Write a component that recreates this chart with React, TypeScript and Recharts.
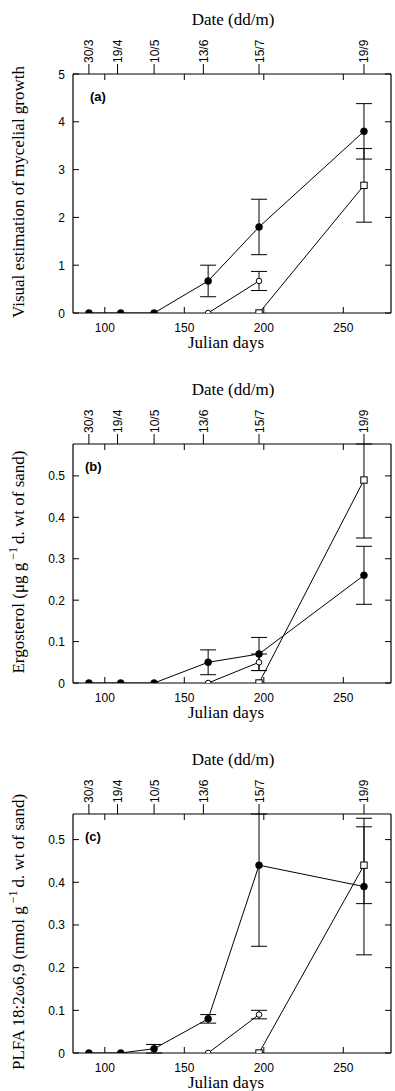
import React from 'react';
import { LineChart, Line, XAxis, YAxis, ErrorBar, ReferenceLine } from 'recharts';

// ---------- data ----------
const filledDays = [90, 110, 131, 165, 197, 263];
const openDays = [165, 197];
const squareDays = [197, 263];
const dateTicks = [90, 108, 131, 162, 197, 263];
const dateLabels = ['30/3', '19/4', '10/5', '13/6', '15/7', '19/9'];
const julianTicks = [100, 150, 200, 250];

// (a) visual estimation of mycelial growth  (error: [minus, plus])
const aFilled = [0, 0, 0, 0.67, 1.8, 3.8];
const aFilledErr = [null, null, null, [0.33, 0.33], [0.58, 0.58], [0.58, 0.58]];
const aOpen = [0, 0.67];
const aOpenErr = [null, [0.2, 0.2]];
const aSquare = [0, 2.67];
const aSquareErr = [null, [0.77, 0.77]];
const aTicks = [0, 1, 2, 3, 4, 5];

// (b) ergosterol (upper bar of the square runs off the top of the frame)
const bFilled = [0, 0, 0, 0.05, 0.07, 0.26];
const bFilledErr = [null, null, null, [0.03, 0.03], [0.04, 0.04], [0.07, 0.07]];
const bOpen = [0, 0.05];
const bOpenErr = [null, [0.02, 0.02]];
const bSquare = [0, 0.49];
const bSquareErr = [null, [0.14, 0.087]];
const bTicks = [0, 0.1, 0.2, 0.3, 0.4, 0.5];

// (c) PLFA 18:2w6,9 (upper bar at 15/7 runs off the top of the frame)
const cFilled = [0, 0, 0.01, 0.08, 0.44, 0.39];
const cFilledErr = [null, null, [0.01, 0.01], [0.01, 0.01], [0.19, 0.12], [0.16, 0.16]];
const cOpen = [0, 0.09];
const cOpenErr = [null, [0.01, 0.01]];
const cSquare = [0, 0.44];
const cSquareErr = [null, [0.09, 0.09]];
const cTicks = [0, 0.1, 0.2, 0.3, 0.4, 0.5];

// ---------- layout ----------
const W = 395;
const H = 360;
const TOP_H = 74;
const BOTTOM_H = 47;
const LEFT_W = 73;
const RIGHT_M = 4;
const PT = TOP_H;
const PB = H - BOTTOM_H;
const PL = LEFT_W;
const PR = W - RIGHT_M;

const SANS = '"Liberation Sans", Arial, Helvetica, sans-serif';
const SERIF = '"Liberation Serif", "Times New Roman", Times, serif';

const rows = (xs: number[], vs: number[], es: any[]) =>
  xs.map((d, i) => ({ day: d, v: vs[i], e: es[i] }));

const BottomTick = (props: any) => {
  const { x, payload } = props;
  return (
    <g>
      <line x1={x} x2={x} y1={PB} y2={PB - 6} stroke="#000" strokeWidth={1} />
      <line x1={x} x2={x} y1={PT} y2={PT + 6} stroke="#000" strokeWidth={1} />
      <text x={x} y={PB + 19} textAnchor="middle" fontSize={12} fontFamily={SANS} fill="#000">
        {payload.value}
      </text>
    </g>
  );
};

const LeftTick = (props: any) => {
  const { y, payload } = props;
  return (
    <g>
      <line x1={PL} x2={PL + 6} y1={y} y2={y} stroke="#000" strokeWidth={1} />
      <line x1={PR} x2={PR - 6} y1={y} y2={y} stroke="#000" strokeWidth={1} />
      <text x={PL - 8} y={y + 4.5} textAnchor="end" fontSize={12} fontFamily={SANS} fill="#000">
        {String(payload.value)}
      </text>
    </g>
  );
};

const TopTick = (props: any) => {
  const { x, payload } = props;
  const idx = dateTicks.indexOf(payload.value);
  const tx = x + 4.5;
  const ty = PT - 11;
  return (
    <g>
      <line x1={x} x2={x} y1={PT} y2={PT - 10} stroke="#000" strokeWidth={1} />
      <text
        x={tx}
        y={ty}
        transform={`rotate(-90 ${tx} ${ty})`}
        textAnchor="start"
        fontSize={12}
        fontFamily={SANS}
        fill="#000"
      >
        {dateLabels[idx]}
      </text>
    </g>
  );
};

const filledDot = (p: any) => (
  <circle key={`f${p.index}`} cx={p.cx} cy={p.cy} r={3.5} fill="#000" stroke="#000" strokeWidth={0.5} />
);
const openDot = (p: any) => (
  <circle key={`o${p.index}`} cx={p.cx} cy={p.cy} r={2.8} fill="#fff" stroke="#000" strokeWidth={1} />
);
const squareDot = (p: any) => (
  <rect key={`s${p.index}`} x={p.cx - 3.2} y={p.cy - 3.2} width={6.4} height={6.4} fill="#fff" stroke="#000" strokeWidth={1} />
);

type PanelProps = {
  top: number;
  tag: string;
  tagX: number;
  yMax: number;
  yTicks: number[];
  filled: any[];
  open: any[];
  square: any[];
  yTitle: React.ReactNode;
};

const Panel = ({ top, tag, tagX, yMax, yTicks, filled, open, square, yTitle }: PanelProps) => (
  <div style={{ position: 'absolute', left: 0, top, width: W, height: H }}>
    <LineChart width={W} height={H} margin={{ top: 0, right: RIGHT_M, bottom: 0, left: 0 }}>
      <XAxis
        xAxisId="bottom"
        dataKey="day"
        type="number"
        domain={[80, 280]}
        allowDataOverflow
        ticks={julianTicks}
        interval={0}
        height={BOTTOM_H}
        tickSize={0}
        tickMargin={0}
        tickLine={false}
        tick={(p: any) => <BottomTick {...p} />}
        axisLine={{ stroke: '#000', strokeWidth: 1.2 }}
      />
      <XAxis
        xAxisId="top"
        orientation="top"
        dataKey="day"
        type="number"
        domain={[80, 280]}
        allowDataOverflow
        ticks={dateTicks}
        interval={0}
        height={TOP_H}
        tickSize={0}
        tickMargin={0}
        tickLine={false}
        tick={(p: any) => <TopTick {...p} />}
        axisLine={{ stroke: '#000', strokeWidth: 1.2 }}
      />
      <YAxis
        yAxisId="left"
        type="number"
        domain={[0, yMax]}
        allowDataOverflow
        ticks={yTicks}
        interval={0}
        width={LEFT_W}
        tickSize={0}
        tickMargin={0}
        tickLine={false}
        tick={(p: any) => <LeftTick {...p} />}
        axisLine={{ stroke: '#000', strokeWidth: 1.2 }}
      />
      <ReferenceLine xAxisId="bottom" yAxisId="left" x={280} stroke="#000" strokeWidth={1.2} />
      <Line
        xAxisId="bottom"
        yAxisId="left"
        data={square}
        dataKey="v"
        type="linear"
        stroke="#000"
        strokeWidth={1}
        dot={squareDot}
        isAnimationActive={false}
      >
        <ErrorBar dataKey="e" direction="y" width={8} stroke="#000" strokeWidth={1} />
      </Line>
      <Line
        xAxisId="bottom"
        yAxisId="left"
        data={open}
        dataKey="v"
        type="linear"
        stroke="#000"
        strokeWidth={1}
        dot={openDot}
        isAnimationActive={false}
      >
        <ErrorBar dataKey="e" direction="y" width={8} stroke="#000" strokeWidth={1} />
      </Line>
      <Line
        xAxisId="bottom"
        yAxisId="left"
        data={filled}
        dataKey="v"
        type="linear"
        stroke="#000"
        strokeWidth={1}
        dot={filledDot}
        isAnimationActive={false}
      >
        <ErrorBar dataKey="e" direction="y" width={8} stroke="#000" strokeWidth={1} />
      </Line>
    </LineChart>
    <svg
      width={W}
      height={H}
      style={{ position: 'absolute', left: 0, top: 0, pointerEvents: 'none' }}
    >
      <text x={233} y={25} textAnchor="middle" fontSize={17} fontFamily={SERIF} fill="#000">
        Date (dd/m)
      </text>
      <text x={226} y={348} textAnchor="middle" fontSize={17} fontFamily={SERIF} fill="#000">
        Julian days
      </text>
      <text x={tagX} y={101} fontSize={13} fontWeight="bold" fontFamily={SANS} fill="#000">
        {tag}
      </text>
      <text
        x={24}
        y={192}
        transform="rotate(-90 24 192)"
        textAnchor="middle"
        fontSize={17}
        fontFamily={SERIF}
        fill="#000"
      >
        {yTitle}
      </text>
    </svg>
  </div>
);

export default function App() {
  return (
    <div
      style={{
        position: 'absolute',
        left: 0,
        top: 0,
        width: W,
        height: 1091,
        overflow: 'hidden',
        background: '#fff',
      }}
    >
      <Panel
        top={0}
        tag="(a)"
        tagX={90}
        yMax={5}
        yTicks={aTicks}
        filled={rows(filledDays, aFilled, aFilledErr)}
        open={rows(openDays, aOpen, aOpenErr)}
        square={rows(squareDays, aSquare, aSquareErr)}
        yTitle="Visual estimation of mycelial growth"
      />
      <Panel
        top={370}
        tag="(b)"
        tagX={85}
        yMax={0.577}
        yTicks={bTicks}
        filled={rows(filledDays, bFilled, bFilledErr)}
        open={rows(openDays, bOpen, bOpenErr)}
        square={rows(squareDays, bSquare, bSquareErr)}
        yTitle={
          <>
            <tspan>Ergosterol (μg g</tspan>
            <tspan dx={3} dy={-7} fontSize={12}>−1</tspan>
            <tspan dx={3} dy={7}>d. wt of sand)</tspan>
          </>
        }
      />
      <Panel
        top={740}
        tag="(c)"
        tagX={85}
        yMax={0.56}
        yTicks={cTicks}
        filled={rows(filledDays, cFilled, cFilledErr)}
        open={rows(openDays, cOpen, cOpenErr)}
        square={rows(squareDays, cSquare, cSquareErr)}
        yTitle={
          <>
            <tspan>PLFA 18:2ω6,9 (nmol g</tspan>
            <tspan dx={3} dy={-7} fontSize={12}>−1</tspan>
            <tspan dx={3} dy={7}>d. wt of sand)</tspan>
          </>
        }
      />
    </div>
  );
}
